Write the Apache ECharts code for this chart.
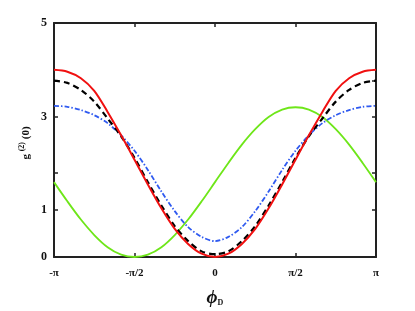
<!DOCTYPE html>
<html>
<head>
<meta charset="utf-8">
<script src="https://cdn.jsdelivr.net/npm/echarts@6/dist/echarts.min.js"></script>
<style>html,body{margin:0;padding:0;background:#fff}#c{width:415px;height:311px}</style>
</head>
<body>
<div id="c"></div>
<script>
// phase phi_D in units of pi
const phiValues = [-1, -0.917, -0.833, -0.75, -0.667, -0.583, -0.5, -0.417, -0.333, -0.25, -0.167, -0.083, 0,
                   0.083, 0.167, 0.25, 0.333, 0.417, 0.5, 0.583, 0.667, 0.75, 0.833, 0.917, 1];
const redValues = [4.0, 3.96, 3.82, 3.55, 3.10, 2.60, 2.08, 1.55, 1.04, 0.60, 0.28, 0.07, 0.0,
                   0.07, 0.28, 0.60, 1.04, 1.55, 2.08, 2.60, 3.10, 3.55, 3.82, 3.96, 4.0];
const blackValues = [3.77, 3.72, 3.57, 3.32, 2.96, 2.58, 2.12, 1.60, 1.10, 0.66, 0.34, 0.12, 0.06,
                     0.12, 0.34, 0.66, 1.10, 1.60, 2.12, 2.58, 2.96, 3.32, 3.57, 3.72, 3.77];
const blueValues = [3.23, 3.21, 3.14, 3.03, 2.86, 2.60, 2.27, 1.86, 1.40, 0.98, 0.64, 0.43, 0.34,
                    0.43, 0.64, 0.98, 1.40, 1.86, 2.27, 2.60, 2.86, 3.03, 3.14, 3.21, 3.23];
const greenValues = [1.60, 1.19, 0.80, 0.47, 0.21, 0.05, 0.0, 0.05, 0.21, 0.47, 0.80, 1.19, 1.60,
                     2.01, 2.40, 2.73, 2.99, 3.15, 3.20, 3.15, 2.99, 2.73, 2.40, 2.01, 1.60];
const xTickLabels = {'-1': '-π', '-0.5': '-π/2', '0': '0', '0.5': 'π/2', '1': 'π'};
const yTickValues = [0, 1, 1.8, 3, 3.77, 5];
const yLabelValues = [0, 1, 3, 5];

const pairs = v => phiValues.map((p, i) => [p, v[i]]);
const serif = '"Liberation Serif", "DejaVu Serif", serif';
const axisLine = {show: true, onZero: false, lineStyle: {color: '#222', width: 2}};
const tick = extra => Object.assign({inside: true, length: 4, lineStyle: {color: '#222', width: 1.5}}, extra || {});

const chart = echarts.init(document.getElementById('c'), null, {renderer: 'canvas'});
chart.setOption({
  animation: false,
  grid: {left: 54, right: 39, top: 23, bottom: 54},
  xAxis: [{
    type: 'value', min: -1, max: 1, interval: 0.5, position: 'bottom',
    axisLine: axisLine, axisTick: tick(), splitLine: {show: false},
    axisLabel: {margin: 11, color: '#111', fontFamily: serif, fontWeight: 'bold', fontSize: 11,
      formatter: v => xTickLabels[String(v)]}
  }, {
    type: 'value', min: -1, max: 1, interval: 0.5, position: 'top',
    axisLine: axisLine, axisTick: tick(), splitLine: {show: false}, axisLabel: {show: false}
  }],
  yAxis: [{
    type: 'value', min: 0, max: 5, interval: 1, position: 'left',
    axisLine: axisLine, axisTick: tick({customValues: yTickValues}), splitLine: {show: false},
    axisLabel: {margin: 7, color: '#111', fontFamily: serif, fontWeight: 'bold', fontSize: 12,
      customValues: yLabelValues}
  }, {
    type: 'value', min: 0, max: 5, interval: 1, position: 'right',
    axisLine: axisLine, axisTick: tick({customValues: yTickValues}), splitLine: {show: false},
    axisLabel: {show: false}
  }],
  series: [
    {type: 'line', data: pairs(greenValues), smooth: 0.3, showSymbol: false,
      lineStyle: {color: '#6ee619', width: 1.8}},
    {type: 'line', data: pairs(blueValues), smooth: 0.3, showSymbol: false,
      lineStyle: {color: '#2f5af0', width: 1.8, type: [5, 2, 1.5, 2]}},
    {type: 'line', data: pairs(blackValues), smooth: 0.3, showSymbol: false,
      lineStyle: {color: '#000', width: 2.2, type: [6, 4]}},
    {type: 'line', data: pairs(redValues), smooth: 0.3, showSymbol: false,
      lineStyle: {color: '#f01010', width: 2}}
  ],
  graphic: [
    {type: 'text', x: 215, y: 298,
      style: {text: '{p|ϕ}{s|D}', align: 'center', verticalAlign: 'middle',
        rich: {p: {fontFamily: serif, fontStyle: 'italic', fontWeight: 'bold', fontSize: 19, fill: '#111'},
               s: {fontFamily: serif, fontWeight: 'bold', fontSize: 8, fill: '#111', padding: [10, 0, 0, 0]}}}},
    {type: 'text', x: 26, y: 143, rotation: Math.PI / 2,
      style: {text: '{g|g }{s|(2)}{g| (0)}', align: 'center', verticalAlign: 'middle',
        rich: {g: {fontFamily: serif, fontWeight: 'bold', fontSize: 11, fill: '#111'},
               s: {fontFamily: serif, fontWeight: 'bold', fontSize: 8, fill: '#111', padding: [0, 0, 8, 0]}}}}
  ]
});
</script>
</body>
</html>
